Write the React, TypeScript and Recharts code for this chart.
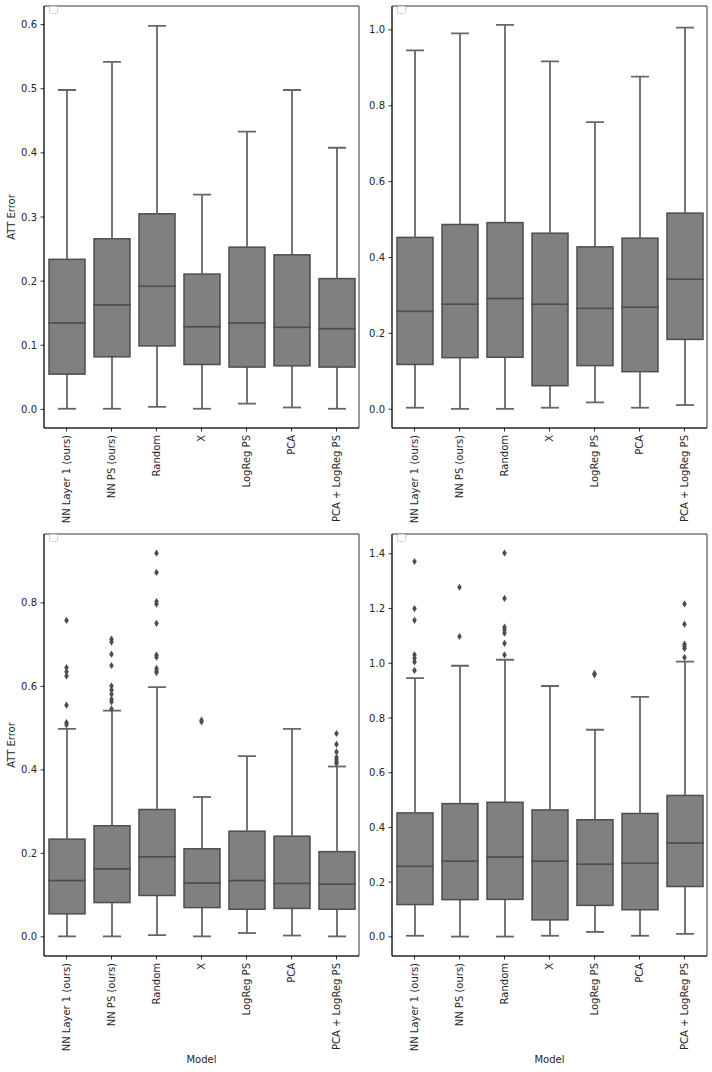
import React from "react";
import { ComposedChart, Bar, Scatter, XAxis, YAxis, ReferenceArea } from "recharts";

const models = ["NN Layer 1 (ours)", "NN PS (ours)", "Random", "X", "LogReg PS", "PCA", "PCA + LogReg PS"];

// left column (same boxes top and bottom, bottom adds fliers)
const lowA = [0.001, 0.001, 0.004, 0.001, 0.009, 0.003, 0.001];
const q1A = [0.055, 0.082, 0.099, 0.070, 0.066, 0.068, 0.066];
const medA = [0.135, 0.163, 0.192, 0.129, 0.135, 0.128, 0.126];
const q3A = [0.234, 0.266, 0.305, 0.211, 0.253, 0.241, 0.204];
const highA = [0.498, 0.542, 0.598, 0.335, 0.433, 0.498, 0.408];
const fliersA: number[][] = [
  [0.758, 0.645, 0.635, 0.625, 0.555, 0.513, 0.508],
  [0.713, 0.706, 0.677, 0.65, 0.601, 0.591, 0.581, 0.569, 0.563, 0.546],
  [0.919, 0.873, 0.803, 0.797, 0.751, 0.675, 0.67, 0.643, 0.637, 0.633],
  [0.519, 0.515],
  [],
  [],
  [0.487, 0.461, 0.443, 0.43, 0.424, 0.419, 0.415],
];

// right column
const lowB = [0.004, 0.001, 0.001, 0.004, 0.018, 0.004, 0.011];
const q1B = [0.118, 0.136, 0.137, 0.062, 0.115, 0.099, 0.184];
const medB = [0.258, 0.277, 0.292, 0.277, 0.266, 0.269, 0.343];
const q3B = [0.453, 0.487, 0.492, 0.464, 0.428, 0.451, 0.517];
const highB = [0.946, 0.991, 1.013, 0.917, 0.757, 0.877, 1.006];
const fliersB: number[][] = [
  [1.372, 1.2, 1.157, 1.031, 1.018, 1.005, 0.974],
  [1.278, 1.098],
  [1.403, 1.237, 1.132, 1.122, 1.11, 1.073, 1.031],
  [],
  [0.963, 0.958],
  [],
  [1.217, 1.143, 1.07, 1.061, 1.054, 1.021],
];

const ticksTL = [0, 0.1, 0.2, 0.3, 0.4, 0.5, 0.6];
const ticksTR = [0, 0.2, 0.4, 0.6, 0.8, 1.0];
const ticksBL = [0, 0.2, 0.4, 0.6, 0.8];
const ticksBR = [0, 0.2, 0.4, 0.6, 0.8, 1.0, 1.2, 1.4];

const FONT = "DejaVu Sans, sans-serif";
const LINE = "#4d4d4d";
const WHISKER = "#666666";
const FILL = "#808080";
const TEXT = "#262626";

function boxRows(low: number[], q1: number[], med: number[], q3: number[], high: number[]) {
  return models.map((name, i) => ({
    name,
    med: med[i],
    base: low[i],
    w1: q1[i] - low[i],
    b1: med[i] - q1[i],
    b2: q3[i] - med[i],
    w2: high[i] - q3[i],
  }));
}

function flierRows(fliers: number[][]) {
  return fliers.flatMap((vals, i) => vals.map((v) => ({ name: models[i], v })));
}

const Empty = () => <g />;

const LowWhisker = (p: any) => {
  const cx = p.x + p.width / 2;
  const capY = p.y + p.height;
  return (
    <g>
      <line x1={cx} x2={cx} y1={p.y} y2={capY} stroke={WHISKER} strokeWidth={1.8} />
      <line x1={cx - p.width / 4} x2={cx + p.width / 4} y1={capY} y2={capY} stroke={WHISKER} strokeWidth={1.8} />
    </g>
  );
};

const HighWhisker = (p: any) => {
  const cx = p.x + p.width / 2;
  return (
    <g>
      <line x1={cx} x2={cx} y1={p.y} y2={p.y + p.height} stroke={WHISKER} strokeWidth={1.8} />
      <line x1={cx - p.width / 4} x2={cx + p.width / 4} y1={p.y} y2={p.y} stroke={WHISKER} strokeWidth={1.8} />
    </g>
  );
};

const BoxHalf = (p: any) => (
  <rect x={p.x} y={p.y} width={p.width} height={p.height} fill={FILL} stroke={LINE} strokeWidth={1.5} />
);

const Diamond = (p: any) => {
  const { cx, cy } = p;
  return (
    <polygon
      points={`${cx},${cy - 3.6} ${cx + 2.3},${cy} ${cx},${cy + 3.6} ${cx - 2.3},${cy}`}
      fill={LINE}
    />
  );
};

const RotTick = (p: any) => (
  <g transform={`translate(${p.x},${p.y})`}>
    <text textAnchor="end" transform="rotate(-90)" dy="0.35em" fontSize={10} fill={TEXT} fontFamily={FONT}>
      {p.payload.value}
    </text>
  </g>
);

interface PanelProps {
  left: number;
  top: number;
  height: number;
  xAxisHeight: number;
  data: any[];
  fliers: { name: string; v: number }[];
  domain: [number, number];
  ticks: number[];
  yLabel?: string;
  xLabel?: string;
}

function Panel({ left, top, height, xAxisHeight, data, fliers, domain, ticks, yLabel, xLabel }: PanelProps) {
  return (
    <div style={{ position: "absolute", left, top }}>
      <ComposedChart
        width={362}
        height={height}
        data={data}
        margin={{ top: 6, right: 3, left: 0, bottom: 0 }}
        barSize={36}
      >
        <XAxis
          dataKey="name"
          type="category"
          allowDuplicatedCategory={false}
          interval={0}
          height={xAxisHeight}
          tickSize={3.5}
          tickMargin={3.5}
          tick={<RotTick />}
          axisLine={{ stroke: "#000", strokeWidth: 0.8 }}
          tickLine={{ stroke: "#000", strokeWidth: 0.8 }}
          label={
            xLabel
              ? {
                  content: (lp: any) => {
                    const vb = lp.viewBox || { x: 44, y: 428, width: 315 };
                    return (
                      <text x={vb.x + vb.width / 2} y={vb.y + 103} dy="0.35em" textAnchor="middle" fontSize={10} fill={TEXT} fontFamily={FONT}>
                        {xLabel}
                      </text>
                    );
                  },
                }
              : undefined
          }
        />
        <YAxis
          type="number"
          domain={domain}
          allowDataOverflow
          ticks={ticks}
          interval={0}
          width={44}
          tickSize={3.5}
          tickMargin={3.5}
          tickFormatter={(v: number) => v.toFixed(1)}
          tick={{ fontSize: 10, fill: TEXT, fontFamily: FONT }}
          axisLine={{ stroke: "#000", strokeWidth: 0.8 }}
          tickLine={{ stroke: "#000", strokeWidth: 0.8 }}
          label={
            yLabel
              ? {
                  content: (lp: any) => {
                    const vb = lp.viewBox || { y: 6, height: 422 };
                    const cy = vb.y + vb.height / 2;
                    return (
                      <text x={11} y={cy} dy="0.35em" textAnchor="middle" transform={`rotate(-90, 11, ${cy})`} fontSize={10} fill={TEXT} fontFamily={FONT}>
                        {yLabel}
                      </text>
                    );
                  },
                }
              : undefined
          }
        />
        <ReferenceArea y1={domain[0]} y2={domain[1]} fill="none" fillOpacity={0} stroke="#000" strokeWidth={0.8} ifOverflow="visible" />
        <Bar dataKey="base" stackId="box" shape={<Empty />} isAnimationActive={false} />
        <Bar dataKey="w1" stackId="box" shape={LowWhisker} isAnimationActive={false} />
        <Bar dataKey="b1" stackId="box" shape={BoxHalf} isAnimationActive={false} />
        <Bar dataKey="b2" stackId="box" shape={BoxHalf} isAnimationActive={false} />
        <Bar dataKey="w2" stackId="box" shape={HighWhisker} isAnimationActive={false} />
        <Scatter data={data} dataKey="med" shape={<Empty />} isAnimationActive={false} legendType="none" />
        <Scatter data={fliers} dataKey="v" shape={Diamond} isAnimationActive={false} />
      </ComposedChart>
      <div
        style={{
          position: "absolute",
          left: 49,
          top: 6,
          width: 7,
          height: 6,
          border: "1px solid #d6d6d6",
          borderRadius: 2,
          background: "#fff",
        }}
      />
    </div>
  );
}

export default function App() {
  const rowsA = boxRows(lowA, q1A, medA, q3A, highA);
  const rowsB = boxRows(lowB, q1B, medB, q3B, highB);
  return (
    <div style={{ position: "absolute", left: 0, top: 0, width: 712, height: 1072, background: "#fff", fontFamily: FONT }}>
      <Panel left={0} top={0} height={528} xAxisHeight={100} data={rowsA} fliers={[]} domain={[-0.029, 0.629]} ticks={ticksTL} yLabel="ATT Error" />
      <Panel left={348} top={0} height={528} xAxisHeight={100} data={rowsB} fliers={[]} domain={[-0.0495, 1.063]} ticks={ticksTR} />
      <Panel left={0} top={528} height={544} xAxisHeight={116} data={rowsA} fliers={flierRows(fliersA)} domain={[-0.046, 0.965]} ticks={ticksBL} yLabel="ATT Error" xLabel="Model" />
      <Panel left={348} top={528} height={544} xAxisHeight={116} data={rowsB} fliers={flierRows(fliersB)} domain={[-0.07, 1.4726]} ticks={ticksBR} xLabel="Model" />
    </div>
  );
}
